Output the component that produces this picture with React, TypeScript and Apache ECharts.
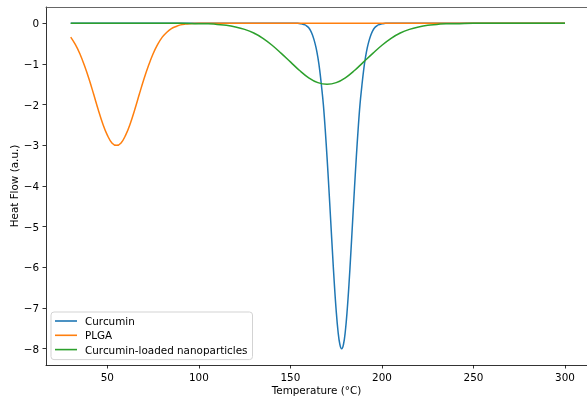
import React, { useEffect, useRef } from "react";
import * as echarts from "echarts";

const seriesNames = ["Curcumin", "PLGA", "Curcumin-loaded nanoparticles"];
const seriesColors = ["#1f77b4", "#ff7f0e", "#2ca02c"];

const curcuminTemp = [30, 150, 154, 156, 158, 159, 160, 161, 162, 163, 164, 165, 166, 167, 168, 169, 170, 171, 172, 173, 174, 175, 176, 177, 178, 179, 180, 181, 182, 183, 184, 185, 186, 187, 188, 189, 190, 191, 192, 193, 194, 195, 196, 197, 198, 200, 202, 300];
const curcuminFlow = [0, 0, 0, -0.015, -0.04, -0.07, -0.11, -0.18, -0.28, -0.42, -0.6, -0.84, -1.15, -1.55, -2.0, -2.6, -3.29, -4.05, -4.85, -5.65, -6.41, -7.06, -7.57, -7.89, -8.0, -7.89, -7.57, -7.06, -6.41, -5.65, -4.85, -4.05, -3.29, -2.6, -2.0, -1.55, -1.15, -0.84, -0.6, -0.42, -0.28, -0.18, -0.11, -0.07, -0.04, -0.015, 0, 0];

const plgaTemp = [30, 32.5, 35, 37.5, 40, 42.5, 45, 47.5, 50, 52.5, 55, 57.5, 60, 62.5, 65, 67.5, 70, 72.5, 75, 77.5, 80, 82.5, 85, 87.5, 90, 92.5, 95, 100, 300];
const plgaFlow = [-0.34, -0.52, -0.75, -1.04, -1.37, -1.74, -2.12, -2.47, -2.75, -2.94, -3.0, -2.94, -2.75, -2.47, -2.12, -1.74, -1.37, -1.04, -0.75, -0.52, -0.34, -0.22, -0.13, -0.08, -0.04, -0.02, -0.01, 0, 0];

const nanoTemp = [30, 90, 100, 105, 110, 115, 120, 125, 130, 135, 140, 145, 150, 155, 160, 165, 170, 175, 180, 185, 190, 195, 200, 205, 210, 215, 220, 225, 230, 235, 240, 250, 300];
const nanoFlow = [0, 0, -0.01, -0.01, -0.03, -0.05, -0.09, -0.15, -0.24, -0.37, -0.54, -0.74, -0.95, -1.16, -1.34, -1.46, -1.5, -1.46, -1.34, -1.16, -0.95, -0.74, -0.54, -0.37, -0.24, -0.15, -0.09, -0.05, -0.03, -0.01, -0.01, 0, 0];

const xTicks = [50, 100, 150, 200, 250, 300];
const yTicks = [0, -1, -2, -3, -4, -5, -6, -7, -8];

const FONT = "DejaVu Sans";
const FS = 10.4;

function pairs(xs: number[], ys: number[]) {
  return xs.map((x, i) => [x, ys[i]]);
}

export default function App() {
  const ref = useRef<HTMLDivElement>(null);
  useEffect(() => {
    if (!ref.current) return;
    const chart = echarts.init(ref.current, null, { renderer: "svg" });
    const axisLine = { show: true, onZero: false, lineStyle: { color: "#000", width: 0.8 } };
    const axisTick = { show: true, length: 3.5, lineStyle: { color: "#000", width: 0.8 } };
    const data = [pairs(curcuminTemp, curcuminFlow), pairs(plgaTemp, plgaFlow), pairs(nanoTemp, nanoFlow)];
    chart.setOption({
      animation: false,
      color: seriesColors,
      grid: { left: 46, right: 0, top: 7, bottom: 33, containLabel: false, outerBoundsMode: "none" },
      legend: {
        orient: "vertical",
        left: 51,
        top: 312,
        icon: "rect",
        itemWidth: 22,
        itemHeight: 1.6,
        itemGap: 2.3,
        padding: [3, 5, 4, 4],
        borderColor: "#d3d3d3",
        borderWidth: 1,
        borderRadius: 3,
        backgroundColor: "rgba(255,255,255,0.8)",
        textStyle: { fontFamily: FONT, fontSize: FS, color: "#000", lineHeight: 12, padding: [0, 0, 0, 3] },
        data: seriesNames,
      },
      xAxis: [
        {
          type: "value",
          min: 16.5,
          max: 312,
          position: "bottom",
          name: "Temperature (°C)",
          nameLocation: "middle",
          nameGap: 19.5,
          nameMoveOverlap: false,
          nameTextStyle: { fontFamily: FONT, fontSize: FS, color: "#000" },
          axisLine,
          axisTick: { ...axisTick, customValues: xTicks },
          axisLabel: { fontFamily: FONT, fontSize: FS, color: "#000", margin: 6.5, customValues: xTicks },
          splitLine: { show: false },
        },
        {
          type: "value",
          min: 16.5,
          max: 312,
          position: "top",
          axisLine: { show: true, onZero: false, lineStyle: { color: "#555", width: 0.9 } },
          axisTick: { show: false },
          axisLabel: { show: false },
          splitLine: { show: false },
        },
      ],
      yAxis: {
        type: "value",
        min: -8.4,
        max: 0.4,
        position: "left",
        name: "Heat Flow (a.u.)",
        nameLocation: "middle",
        nameGap: 27,
        nameMoveOverlap: false,
        nameRotate: 90,
        nameTextStyle: { fontFamily: FONT, fontSize: FS, color: "#000" },
        axisLine,
        axisTick: { ...axisTick, customValues: yTicks },
        axisLabel: {
          fontFamily: FONT,
          fontSize: FS,
          color: "#000",
          margin: 7,
          customValues: yTicks,
          formatter: (v: number) => String(v).replace("-", "\u2212"),
        },
        splitLine: { show: false },
      },
      series: seriesNames.map((name, i) => ({
        name,
        type: "line",
        xAxisIndex: 0,
        data: data[i],
        symbol: "none",
        smooth: 0.4,
        lineStyle: { width: 1.5, color: seriesColors[i] },
        itemStyle: { color: seriesColors[i] },
        z: 2 + i,
      })),
    });
    return () => chart.dispose();
  }, []);
  return <div ref={ref} style={{ position: "fixed", left: 0, top: 0, width: 587, height: 398 }} />;
}
